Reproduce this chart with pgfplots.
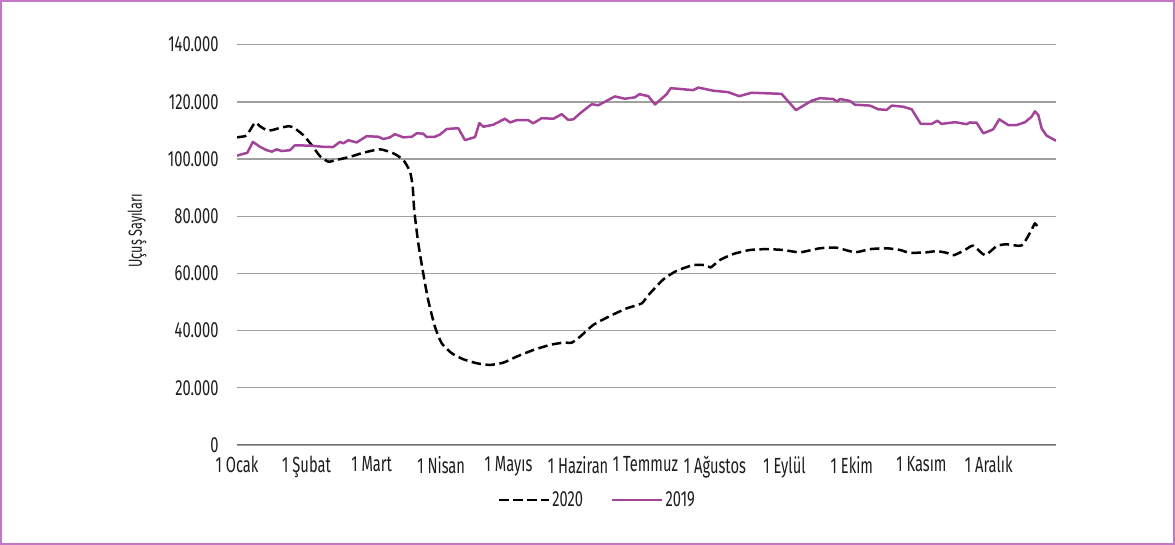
\documentclass[border=0pt]{standalone}
\usepackage{pgfplots}
\pgfplotsset{compat=1.18}
\usepackage{fontspec}
\setmainfont{Fira Sans}[FakeStretch=0.67]
\definecolor{lila}{RGB}{163,68,154}
\definecolor{frame}{RGB}{196,120,196}
\definecolor{gridc}{RGB}{160,160,160}
\definecolor{txt}{RGB}{30,30,30}
\begin{document}
\begin{tikzpicture}[x=1bp,y=1bp]
\draw[frame,line width=1.6bp] (0.8,0.8) rectangle (1174.2,544.2);
\begin{axis}[
  at={(237bp,100bp)}, anchor=south west,
  scale only axis, width=819bp, height=400.3bp,
  xmin=0, xmax=365, ymin=0, ymax=140000,
  scaled y ticks=false,
  axis line style={draw=none},
  axis x line*=bottom,
  ytick={0,20000,40000,60000,80000,100000,120000,140000},
  yticklabels={0,20.000,40.000,60.000,80.000,100.000,120.000,140.000},
  xtick={0,31,60,91,121,152,182,213,244,274,305,335},
  xticklabels={1 Ocak,1 Şubat,1 Mart,1 Nisan,1 Mayıs,1 Haziran,1 Temmuz,1 Ağustos,1 Eylül,1 Ekim,1 Kasım,1 Aralık},
  major tick length=0pt,
  ymajorgrids, grid style={gridc,line width=1.3bp},
  tick label style={font=\fontsize{22}{22}\selectfont, text=txt},
  yticklabel style={xshift=-15bp},
  xticklabel style={yshift=-8bp},
  ylabel={Uçuş Sayıları},
  ylabel style={at={(axis description cs:-0.122,0.535)}, anchor=center, font=\fontsize{19}{19}\selectfont, text=txt},
  legend columns=2,
  legend style={at={(0.44,-0.1375)}, anchor=center, draw=none, fill=none,
    font=\fontsize{22}{22}\selectfont, text=txt,
    /tikz/every even column/.append style={column sep=26bp}},
  legend image code/.code={\draw[#1] (0bp,0bp) -- (50bp,0bp);},
]
\addplot[black, line width=2.5bp, dash pattern=on 9.5bp off 4.5bp, smooth, tension=0.35, line join=round] coordinates {
(0,107600)(3.6,108000)(4.5,108400)(8.0,112700)(10.2,111500)(13.2,110100)(15.5,110100)
(19.2,110900)(23.3,111500)(25.8,110700)(29.5,108400)(33.3,104900)(37.0,101000)(40.7,99100)
(44.4,99700)(50.4,100800)(56.3,102200)(63.7,103400)(69.7,102000)(74.1,99700)(77.1,95600)
(78.3,90300)(79.0,82000)(80.8,70500)(83.0,60000)(85.2,50700)(88.2,41400)(91.2,35600)
(95.7,32100)(100.8,30000)(106.8,28600)(112.7,28000)(118.7,28800)(124.6,30900)(132.0,33200)
(139.5,35000)(145.4,35800)(149.2,35800)(152.9,37900)(158.8,42000)(166.2,45100)(173.7,47800)
(180.3,49500)(183.3,52400)(190.0,57900)(195.9,60900)(203.3,62900)(208.6,62900)(211.1,62100)
(215.2,64700)(221.2,66800)(228.6,68200)(236.1,68500)(243.4,68200)(250.9,67400)(259.8,68800)
(267.2,69000)(275.4,67400)(282.1,68500)(289.5,68800)(295.5,68200)(299.9,67200)(307.4,67400)
(311.8,67800)(316.3,67200)(319.5,66400)(324.4,68200)(328.1,69700)(333.3,66400)(338.6,69600)
(343.0,70200)(349.7,69800)(354.1,75200)(355.6,77500)(357.1,75800)
};
\addlegendentry{2020}
\addplot[lila, line width=2.5bp, line join=round] coordinates {
(0,101200)(3.6,102000)(4.5,102100)(7.1,106000)(10.2,104300)(13.2,103100)(15.5,102600)
(17.7,103400)(19.9,102800)(23.6,103100)(25.8,104800)(32.5,104700)(38.3,104300)(42.8,104200)
(45.9,106000)(47.4,105500)(49.6,106600)(53.3,105800)(57.8,108000)(63.0,107800)(65.2,107000)
(68.2,107600)(70.4,108700)(74.1,107600)(77.9,107800)(80.1,109000)(83.0,108900)(84.5,107700)
(88.2,107800)(90.5,108600)(93.4,110500)(98.6,110800)(101.6,106600)(106.1,107700)(108.0,112600)
(109.8,111300)(114.2,112000)(119.4,114100)(121.7,112800)(124.6,113600)(129.8,113600)
(132.0,112500)(135.8,114300)(141.0,114100)(144.7,115700)(147.6,113700)(149.9,113900)
(152.9,116000)(158.1,119200)(161.0,118800)(164.8,120400)(168.4,121900)(172.9,121100)
(177.4,121600)(179.3,122700)(183.3,122000)(186.3,119100)(191.5,122700)(193.3,124800)
(203.3,124100)(205.6,125000)(212.3,123900)(218.9,123400)(223.8,122000)(229.4,123200)
(242.7,122800)(249.1,117100)(256.1,120400)(259.8,121300)(265.7,121000)(267.5,120100)
(268.7,121000)(273.2,120300)(275.4,119000)(282.1,118700)(285.8,117400)(289.5,117200)
(291.8,118700)(296.9,118300)(300.7,117400)(304.7,112300)(309.6,112300)(312.1,113400)
(314.0,112300)(320.0,112900)(325.2,112200)(326.6,112800)(329.6,112700)(332.6,109000)
(337.0,110400)(339.7,113900)(343.7,111900)(347.5,111900)(351.2,112900)(354.1,114800)
(355.6,116700)(357.1,115400)(358.6,110700)(360.8,108200)(365,106400)
};
\addlegendentry{2019}
\draw[gridc!70!black, line width=1.3bp] (axis cs:0,0) -- (axis cs:365,0);
\end{axis}
\end{tikzpicture}
\end{document}
